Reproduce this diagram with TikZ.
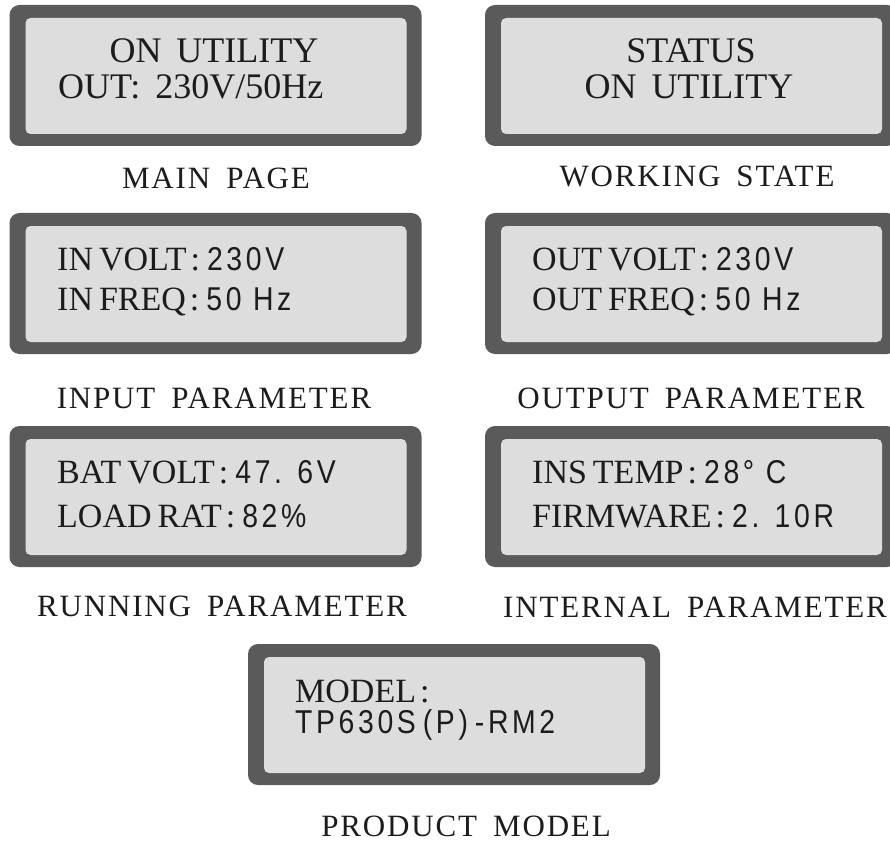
\documentclass[tikz,border=0pt]{standalone}
\usepackage{fontspec}
\setmainfont{Liberation Serif}
\newfontfamily\lcdsansfam[FakeStretch=0.86,LetterSpace=11]{Liberation Sans}
\newfontfamily\lblfam[LetterSpace=6]{Liberation Serif}

\definecolor{bezel}{RGB}{90,90,90}
\definecolor{screen}{RGB}{221,221,221}
\definecolor{ink}{RGB}{28,28,28}

% font sizes (1pt = one unit of the drawing grid)
\newcommand{\lcdbig}{\fontsize{36}{44}\selectfont}
\newcommand{\lcdtxt}{\fontsize{34}{40}\selectfont}
\newcommand{\lcdnum}{\lcdsansfam\fontsize{33}{38}\selectfont}
\newcommand{\lblfont}{\lblfam\fontsize{31}{36}\selectfont}
\newcommand{\wsp}{\hspace{6pt}}
\newcommand{\col}{\hspace{4pt}:\hspace{7pt}}
\newcommand{\capgap}{\hspace{16pt}}
\newcommand{\biggap}{\hspace{15pt}}
\newcommand{\pgap}{\hspace{7pt}}

\tikzset{
  bezelbox/.style={draw=none, fill=bezel, rounded corners=10pt,
    minimum width=412pt, minimum height=141pt, inner sep=0pt},
  screenbox/.style={draw=none, fill=screen, rounded corners=5pt,
    minimum width=381pt, minimum height=116pt, inner sep=0pt},
  lcdline/.style={inner sep=0pt, text=ink, anchor=base west},
  lcdcenter/.style={inner sep=0pt, text=ink, anchor=base},
  caption/.style={inner sep=0pt, text=ink, anchor=base, font=\lblfont},
}

\begin{document}
\begin{tikzpicture}[x=1pt,y=-1pt]
\useasboundingbox[fill=white] (0,0) rectangle (890,842);
\clip (0,0) rectangle (890,842);

% display panels
\foreach \nm/\cx/\cy in {main/215.5/75.5, work/691/75.5,
                         inp/215.5/283.5, outp/691/283.5,
                         run/215.5/496.5, intl/691/496.5,
                         model/454/714.5}{
  \node[bezelbox] (\nm) at (\cx,\cy) {};
  \node[screenbox] (\nm-scr) at (\cx+0.5,\cy+0.5) {};
}

% main page
\node[lcdcenter, font=\lcdbig] (main-l1) at (214,63) {ON\biggap UTILITY};
\node[lcdline, font=\lcdbig] (main-l2) at (58,99) {OUT:\biggap 230V/50Hz};
\node[caption] (main-cap) at (216,189) {MAIN\capgap PAGE};

% working state
\node[lcdcenter, font=\lcdbig] (work-l1) at (691,63) {STATUS};
\node[lcdcenter, font=\lcdbig] (work-l2) at (689,99) {ON\biggap UTILITY};
\node[caption] (work-cap) at (697,187) {WORKING\capgap STATE};

% input parameter
\node[lcdline, font=\lcdtxt] (inp-l1) at (57,270) {IN\wsp VOLT\col{\lcdnum 230V}};
\node[lcdline, font=\lcdtxt] (inp-l2) at (57,310) {IN\wsp FREQ\col{\lcdnum 50 Hz}};
\node[caption] (inp-cap) at (214,408) {INPUT\capgap PARAMETER};

% output parameter
\node[lcdline, font=\lcdtxt] (outp-l1) at (532,270) {OUT\wsp VOLT\col{\lcdnum 230V}};
\node[lcdline, font=\lcdtxt] (outp-l2) at (532,310) {OUT\wsp FREQ\col{\lcdnum 50 Hz}};
\node[caption] (outp-cap) at (691,408) {OUTPUT\capgap PARAMETER};

% running parameter
\node[lcdline, font=\lcdtxt] (run-l1) at (57,483) {BAT\wsp VOLT\col{\lcdnum 47. 6V}};
\node[lcdline, font=\lcdtxt] (run-l2) at (57,527) {LOAD\wsp RAT\col{\lcdnum 82\%}};
\node[caption] (run-cap) at (222,616) {RUNNING\capgap PARAMETER};

% internal parameter
\node[lcdline, font=\lcdtxt] (intl-l1) at (532,483) {INS\wsp TEMP\col{\lcdnum 28° C}};
\node[lcdline, font=\lcdtxt] (intl-l2) at (532,527) {FIRMWARE\col{\lcdnum 2. 10R}};
\node[caption] (intl-cap) at (695,617) {INTERNAL\capgap PARAMETER};

% product model
\node[lcdline, font=\lcdtxt] (model-l1) at (295,702) {MODEL\hspace{4pt}:};
\node[lcdline] (model-l2) at (295,733) {\lcdnum TP630S\pgap(P)\pgap-RM2};
\node[caption] (model-cap) at (466,836) {PRODUCT\capgap MODEL};
\end{tikzpicture}
\end{document}
